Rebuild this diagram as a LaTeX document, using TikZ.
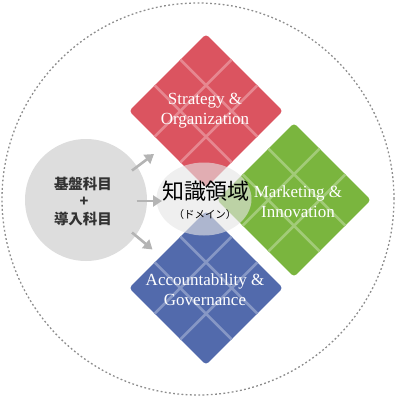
\documentclass[tikz,border=0pt]{standalone}
\usepackage{fontspec}
\newfontfamily\jp{Noto Sans CJK JP}
\newfontfamily\dserif{Liberation Serif}
\usetikzlibrary{arrows.meta,calc,shapes.geometric}
\definecolor{redc}{RGB}{219,84,96}
\definecolor{greenc}{RGB}{122,181,62}
\definecolor{bluec}{RGB}{82,106,172}
\definecolor{basegray}{RGB}{221,221,221}
\definecolor{arrowc}{RGB}{180,180,180}
\definecolor{dashc}{RGB}{140,140,140}
\definecolor{jptext}{RGB}{50,50,50}
\begin{document}
\begin{tikzpicture}[x=1pt,y=-1pt,
  dbox/.style={diamond, aspect=1, inner sep=0pt, minimum size=154pt, rounded corners=3.5pt, draw=none},
  dtext/.style={text=white, align=center, font=\dserif\fontsize{17}{19.7}\selectfont, inner sep=0pt},
  arr/.style={draw=arrowc, line width=2.6pt, -{Triangle[length=9pt,width=11pt]}},
  outerring/.style={circle, draw=dashc, line width=1.3pt, dash pattern=on 1.8pt off 2.4pt, inner sep=0pt, minimum size=392pt},
  basecircle/.style={circle, fill=basegray, inner sep=0pt, minimum size=122pt},
  domainshape/.style={ellipse, fill=black!10, fill opacity=0.62, inner sep=0pt, minimum width=95pt, minimum height=73pt},
]
\useasboundingbox (0,0) rectangle (400,400);

% outer dashed ring
\node[outerring] (outer) at (198,199) {};

% diamonds
\node[dbox, fill=redc] (red) at (206,111) {};
\node[dbox, fill=greenc] (green) at (294,200) {};
\node[dbox, fill=bluec] (blue) at (206,288) {};

% grid lines
\foreach \d/\c in {red/redc, green/greenc, blue/bluec}{
  \foreach \t in {0.3333,0.6667}{
    \draw[draw=\c!70!white, line width=2.6pt]
      ($(\d.north)!\t!(\d.east)$) -- ($(\d.west)!\t!(\d.south)$);
    \draw[draw=\c!70!white, line width=2.6pt]
      ($(\d.north)!\t!(\d.west)$) -- ($(\d.east)!\t!(\d.south)$);
  }
}

% base circle
\node[basecircle] (base) at (86,200) {};

% central domain ellipse
\node[domainshape] (domain) at (204,199) {};

% arrows
\coordinate (a1s) at (132,170.5);
\coordinate (a1e) at (154,154);
\coordinate (a2s) at (136.5,201);
\coordinate (a2e) at (162,201);
\coordinate (a3s) at (132,232.5);
\coordinate (a3e) at (152.5,249.5);
\draw[arr] (a1s) -- (a1e);
\draw[arr] (a2s) -- (a2e);
\draw[arr] (a3s) -- (a3e);

% diamond texts
\node[dtext] (redt) at (205,110.5) {Strategy \&\\Organization};
\node[dtext] (greent) at (298,201.5) {Marketing \&\\Innovation};
\node[dtext] (bluet) at (205,290) {Accountability \&\\Governance};

% base text
\node[inner sep=0pt, text=jptext, font=\jp\bfseries\fontsize{14.5}{17.5}\selectfont] (b1) at (83,184) {基盤科目};
\node[inner sep=0pt, text=jptext, font=\jp\bfseries\fontsize{14.5}{17.5}\selectfont] (b2) at (84,202) {+};
\node[inner sep=0pt, text=jptext, font=\jp\bfseries\fontsize{14.5}{17.5}\selectfont] (b3) at (83,219) {導入科目};

% domain text
\node[inner sep=0pt, text=black, font=\jp\fontsize{22}{24}\selectfont] (d1) at (206,191) {知識領域};
\node[inner sep=0pt, text=black, font=\jp\fontsize{10.5}{12}\selectfont] (d2) at (205,215) {（ドメイン）};
\end{tikzpicture}
\end{document}
